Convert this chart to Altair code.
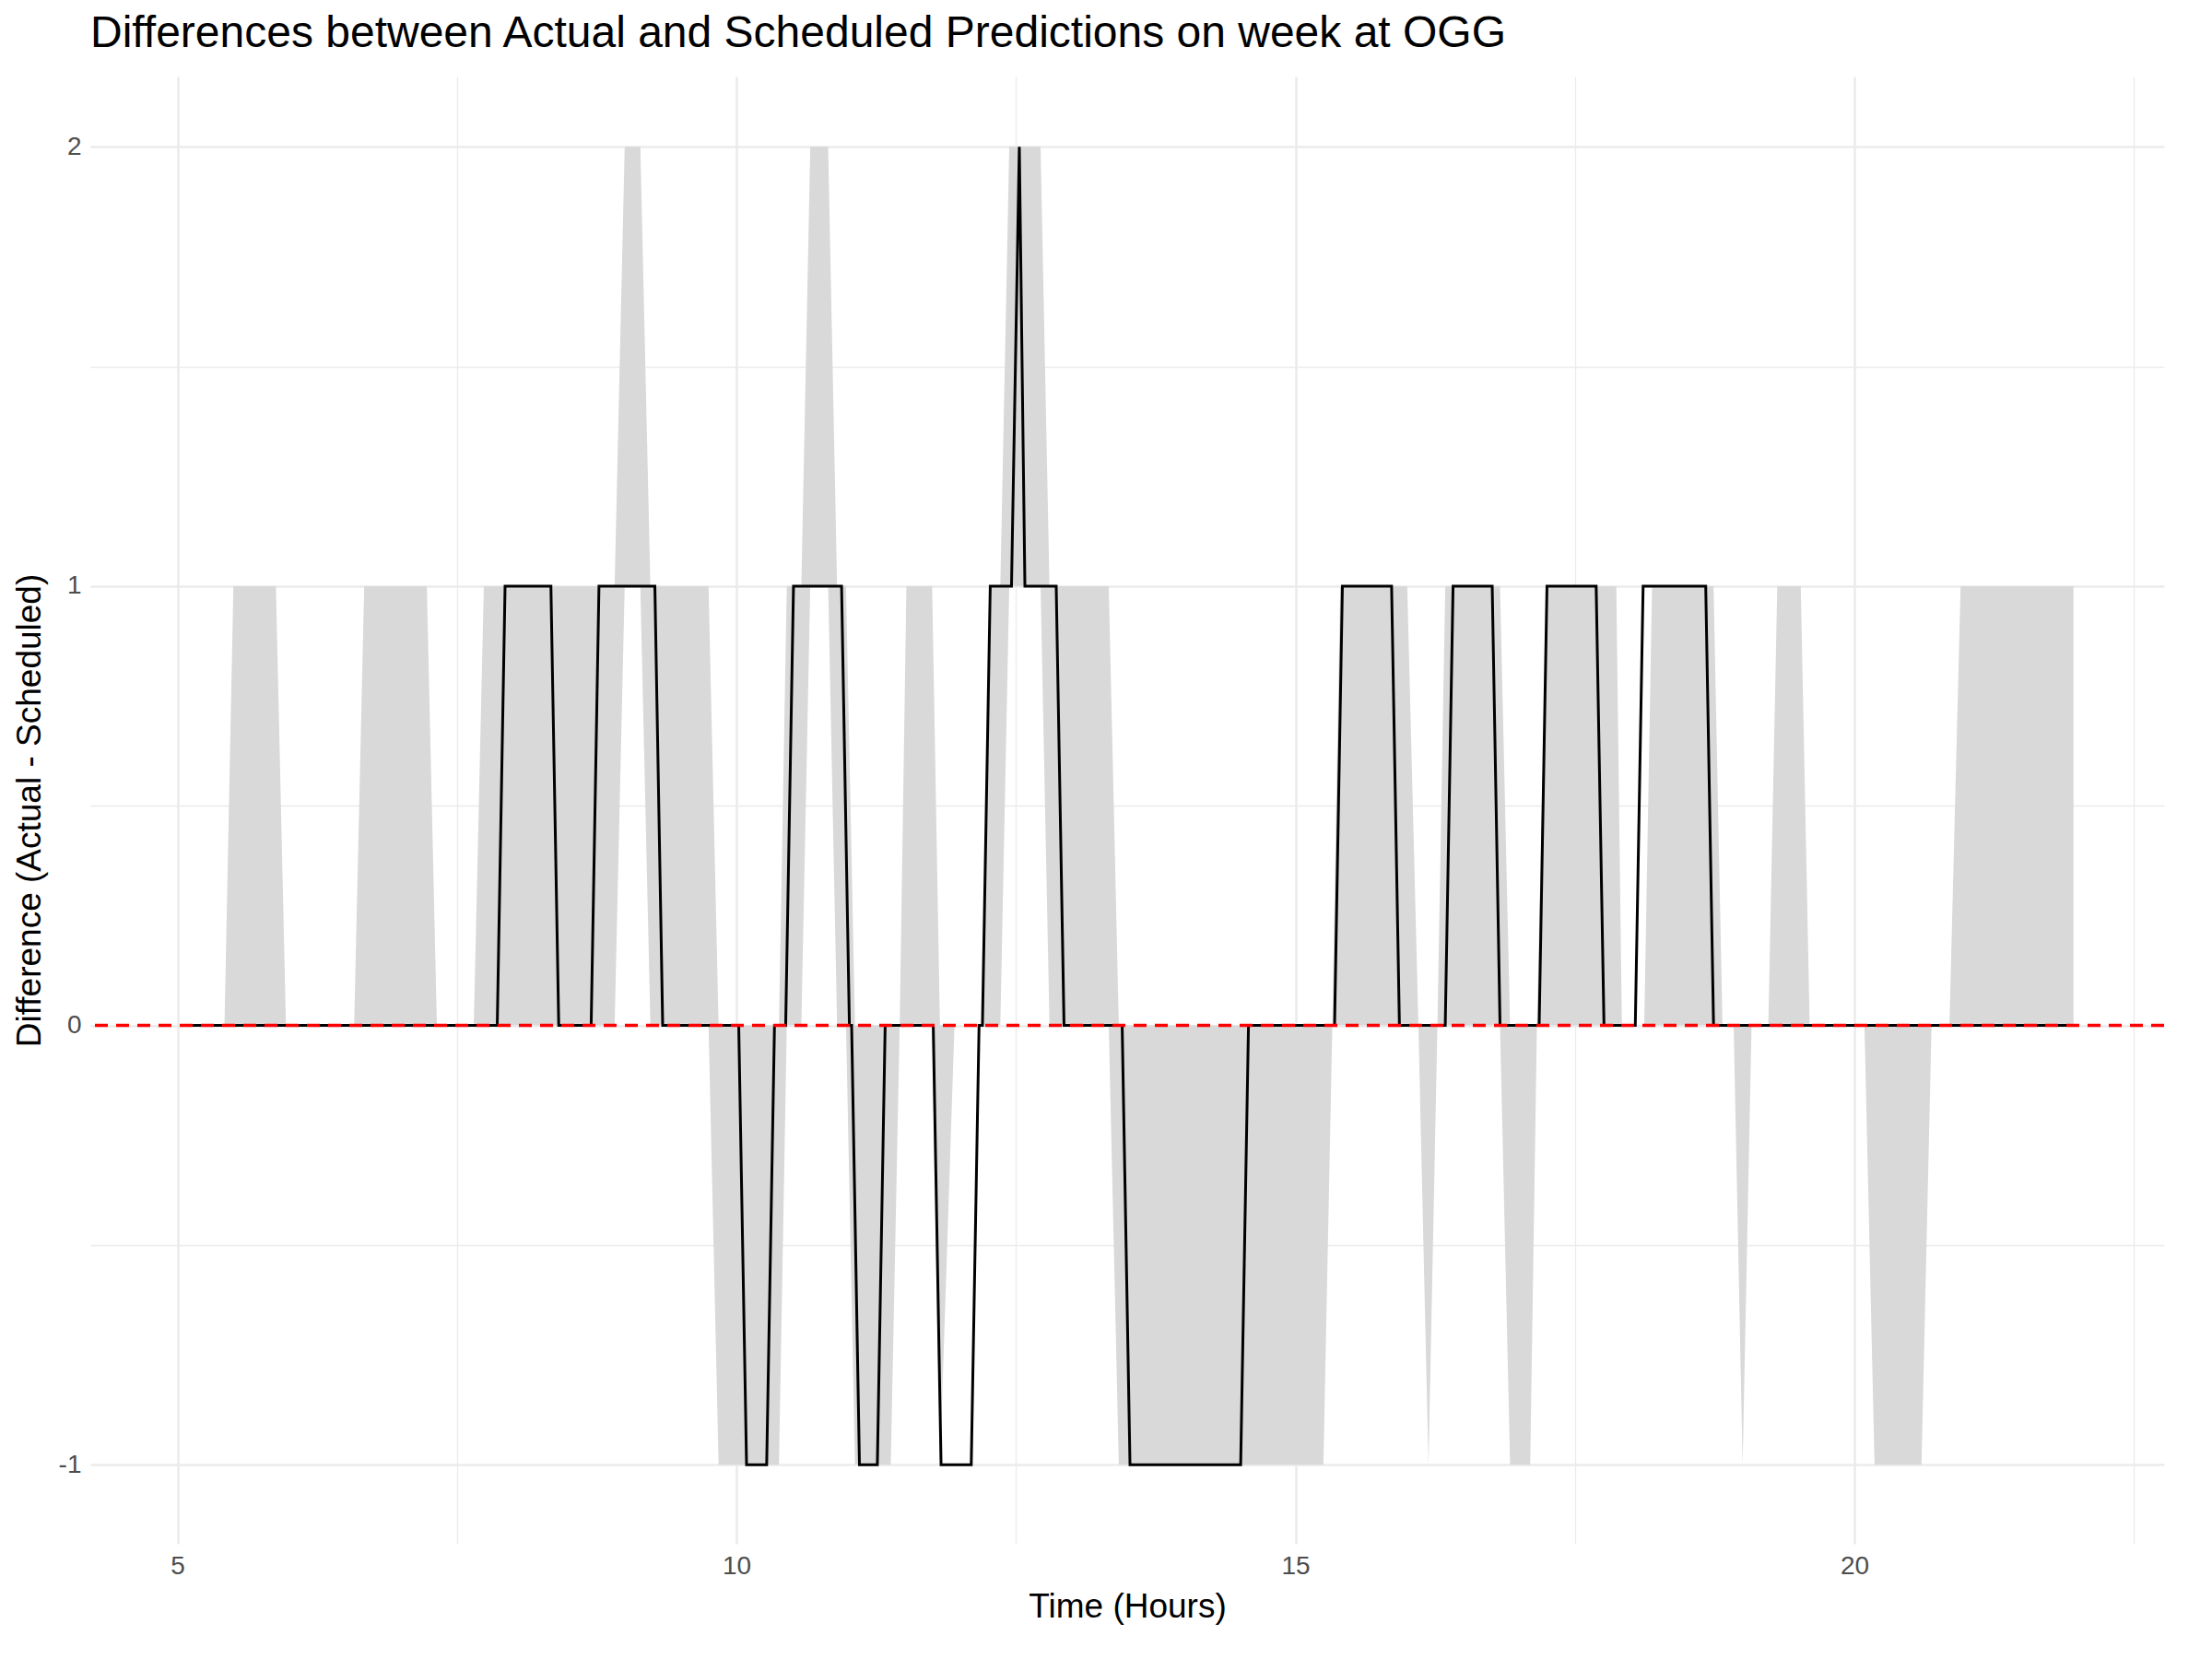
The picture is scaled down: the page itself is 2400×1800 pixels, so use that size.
import altair as alt
import pandas as pd

# black line: difference (actual - scheduled)
line_x = [5.09, 7.86, 7.93, 8.34, 8.41, 8.70, 8.77, 9.27, 9.34, 10.02, 10.09, 10.27, 10.34,
          10.44, 10.51, 10.94, 11.01, 11.03, 11.10, 11.26, 11.33, 11.76, 11.83, 12.10, 12.17,
          12.20, 12.27, 12.46, 12.53, 12.58, 12.86, 12.93, 13.45, 13.52, 14.51, 14.58,
          15.35, 15.42, 15.86, 15.93, 16.34, 16.41, 16.76, 16.83, 17.18, 17.25, 17.69, 17.76,
          18.04, 18.11, 18.67, 18.74, 21.96]
line_y = [0, 0, 1, 1, 0, 0, 1, 1, 0, 0, -1, -1, 0,
          0, 1, 1, 0, 0, -1, -1, 0, 0, -1, -1, 0,
          0, 1, 1, 2, 1, 1, 0, 0, -1, -1, 0,
          0, 1, 1, 0, 0, 1, 1, 0, 0, 1, 1, 0,
          0, 1, 1, 0, 0]

# grey band
band_x = [5.09, 5.42, 5.50, 5.88, 5.97, 6.58, 6.67, 7.23, 7.32, 7.65, 7.74, 8.91, 9.00,
          9.14, 9.23, 9.75, 9.84, 10.38, 10.45, 10.58, 10.66, 10.82, 10.90, 10.98, 11.06,
          11.38, 11.46, 11.52, 11.75, 11.82, 11.95, 12.20, 12.28, 12.36, 12.44, 12.72, 12.80,
          13.33, 13.42, 15.25, 15.33, 15.40, 16.00, 16.10, 16.19, 16.27, 16.34, 16.83, 16.92,
          17.02, 17.10, 17.16, 17.25, 17.87, 17.92, 18.12, 18.19, 18.74, 18.82, 18.92, 19.00,
          19.08, 19.23, 19.31, 19.52, 19.60, 20.09, 20.18, 20.60, 20.69, 20.85, 20.95, 21.96]
band_lo = [0, 0, 0, 0, 0, 0, 0, 0, 0, 0, 0, 0, 1,
           1, 0, 0, -1, -1, 0, 0, 1, 1, 0, 0, -1,
           -1, 0, 0, 0, -1, 0, 0, 0, 0, 1, 1, 0,
           0, -1, -1, 0, 0, 0, 0, -1, 0, 0, 0, -1,
           -1, -1, 0, 0, 0, 0, 0, 0, 0, 0, 0, -1,
           0, 0, 0, 0, 0, 0, -1, -1, 0, 0, 0, 0]
band_hi = [0, 0, 1, 1, 0, 0, 1, 1, 0, 0, 1, 1, 2,
           2, 1, 1, 0, 0, 1, 1, 2, 2, 1, 1, 0,
           0, 0, 1, 1, 0, 0, 0, 1, 1, 2, 2, 1,
           1, 0, 0, 0, 1, 1, 0, 0, 0, 1, 1, 0,
           0, 0, 0, 1, 1, 0, 0, 1, 1, 0, 0, 0,
           0, 0, 1, 1, 0, 0, 0, 0, 0, 0, 1, 1]

line_df = pd.DataFrame({"t": line_x, "diff": line_y})
band_df = pd.DataFrame({"t": band_x, "lo": band_lo, "hi": band_hi})

x_ticks = [2.5 * i for i in range(2, 10)]
y_ticks = [-1, -0.5, 0, 0.5, 1, 1.5, 2]

xs = alt.Scale(domain=[4.22, 22.77], nice=False, zero=False)
ys = alt.Scale(domain=[-1.18, 2.16], nice=False, zero=False)

x_axis = alt.Axis(
    values=x_ticks, title="Time (Hours)",
    labelExpr="datum.value % 5 === 0 ? datum.value : ''",
    gridWidth=alt.condition("datum.value % 5 === 0", alt.value(2.6), alt.value(1.3)),
)
y_axis = alt.Axis(
    values=y_ticks, title="Difference (Actual - Scheduled)",
    labelExpr="datum.value % 1 === 0 ? datum.value : ''",
    gridWidth=alt.condition("datum.value % 1 === 0", alt.value(2.6), alt.value(1.3)),
)

band = alt.Chart(band_df).mark_area(color="#d9d9d9", opacity=1).encode(
    x=alt.X("t:Q", scale=xs, axis=x_axis),
    y=alt.Y("lo:Q", scale=ys, axis=y_axis),
    y2="hi:Q",
)

line = alt.Chart(line_df).mark_line(color="black", strokeWidth=3).encode(
    x=alt.X("t:Q", scale=xs),
    y=alt.Y("diff:Q", scale=ys),
)

zero = alt.Chart(pd.DataFrame({"y": [0]})).mark_rule(
    color="#ff0000", strokeWidth=3.5, strokeDash=[14, 9]
).encode(y=alt.Y("y:Q", scale=ys))

chart = (
    alt.layer(band, line, zero)
    .properties(
        width=2250, height=1592,
        title=alt.Title(
            "Differences between Actual and Scheduled Predictions on week at OGG",
            anchor="start", frame="group", fontSize=48, fontWeight="normal", color="black",
            font="Liberation Sans", offset=22,
        ),
    )
    .configure_view(stroke=None)
    .configure_axis(
        domain=False, ticks=False, gridColor="#ebebeb",
        labelFont="Liberation Sans", titleFont="Liberation Sans",
        labelFontSize=28, labelColor="#4d4d4d", labelPadding=10,
        titleFontSize=37, titleFontWeight="normal", titleColor="black", titlePadding=12,
    )
)

chart.save("out.html", embed_options={"renderer": "svg", "actions": False})
